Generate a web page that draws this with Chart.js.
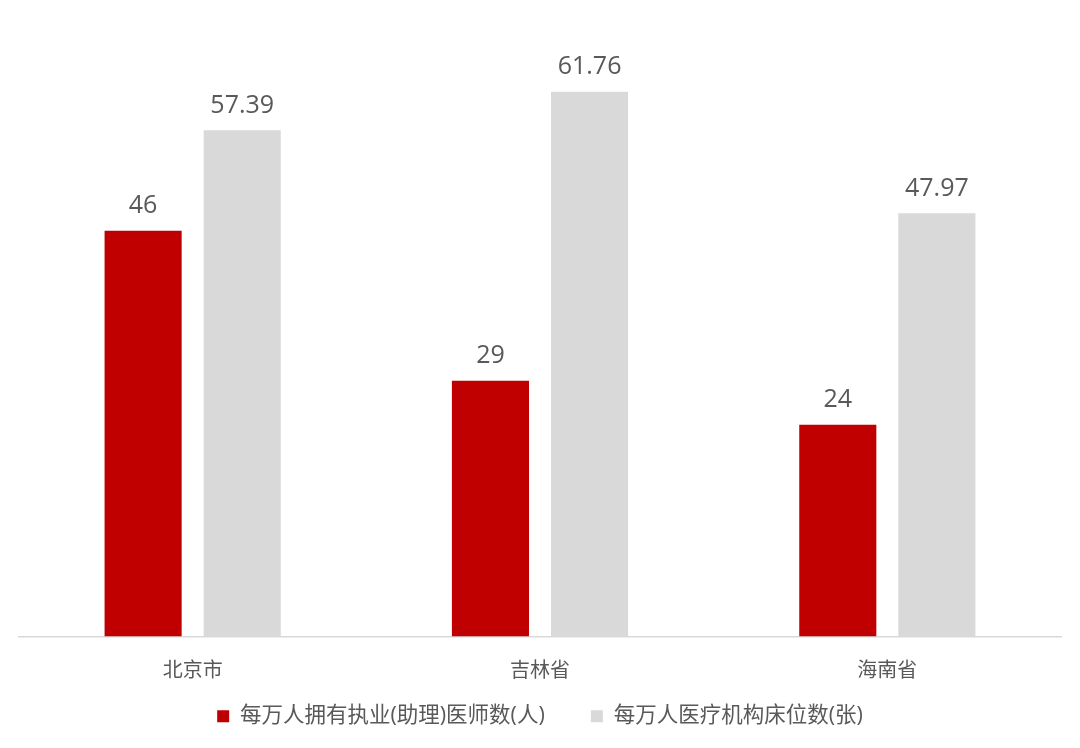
<!DOCTYPE html>
<html lang="zh">
<head>
    <meta charset="UTF-8">
    <title>每万人医师数与床位数</title>
    <script src="https://cdn.jsdelivr.net/npm/chart.js"></script>
    <style>
        body {
            margin: 0;
            background: #fff;
        }
        .wrap {
            width: 1080px;
            height: 748px;
            position: relative;
        }
    </style>
</head>
<body>
    <div class="wrap">
        <canvas id="chart"></canvas>
    </div>

    <script>
        // 数据
        const regions = ['北京市', '吉林省', '海南省'];
        const doctors = [46, 29, 24];          // 每万人拥有执业(助理)医师数(人)
        const beds = [57.39, 61.76, 47.97];    // 每万人医疗机构床位数(张)
        const seriesNames = ['每万人拥有执业(助理)医师数(人)', '每万人医疗机构床位数(张)'];

        const fontFamily = "'Open Sans', 'Noto Sans CJK SC', sans-serif";
        const textColor = '#595959';

        // labels above bars
        const valueLabels = {
            id: 'valueLabels',
            afterDatasetsDraw(chart) {
                const ctx = chart.ctx;
                ctx.save();
                ctx.font = '25px ' + fontFamily;
                ctx.fillStyle = textColor;
                ctx.textAlign = 'center';
                ctx.textBaseline = 'bottom';
                chart.data.datasets.forEach((ds, i) => {
                    chart.getDatasetMeta(i).data.forEach((bar, j) => {
                        ctx.fillText(String(ds.data[j]), bar.x, bar.y - 12);
                    });
                });
                ctx.restore();
            }
        };

        const ctx = document.getElementById('chart').getContext('2d');
        new Chart(ctx, {
            type: 'bar',
            data: {
                labels: regions,
                datasets: [{
                    label: seriesNames[0],
                    data: doctors,
                    backgroundColor: '#C00000'
                },
                {
                    label: seriesNames[1],
                    data: beds,
                    backgroundColor: '#D9D9D9'
                }]
            },
            options: {
                responsive: true,
                maintainAspectRatio: false,
                animation: false,
                layout: {
                    padding: { left: 19, right: 19, top: 19, bottom: 11 }
                },
                datasets: {
                    bar: {
                        categoryPercentage: 0.5706,
                        barPercentage: 0.778
                    }
                },
                scales: {
                    x: {
                        grid: { display: false },
                        border: { color: '#D9D9D9', width: 1.5 },
                        ticks: {
                            color: textColor,
                            font: { family: fontFamily, size: 20 },
                            padding: 15
                        }
                    },
                    y: {
                        display: false,
                        min: 0,
                        max: 70
                    }
                },
                plugins: {
                    legend: {
                        position: 'bottom',
                        labels: {
                            color: textColor,
                            font: { family: fontFamily, size: 21.5 },
                            boxWidth: 12,
                            boxHeight: 12,
                            padding: 7,
                            // extra room after the first entry, as in the original
                            generateLabels(chart) {
                                const items = Chart.defaults.plugins.legend.labels.generateLabels(chart);
                                items.forEach((it, i) => {
                                    if (i < items.length - 1) it.text = it.text + '       ';
                                });
                                return items;
                            }
                        }
                    },
                    tooltip: { enabled: false }
                }
            },
            plugins: [valueLabels]
        });
    </script>
</body>
</html>
